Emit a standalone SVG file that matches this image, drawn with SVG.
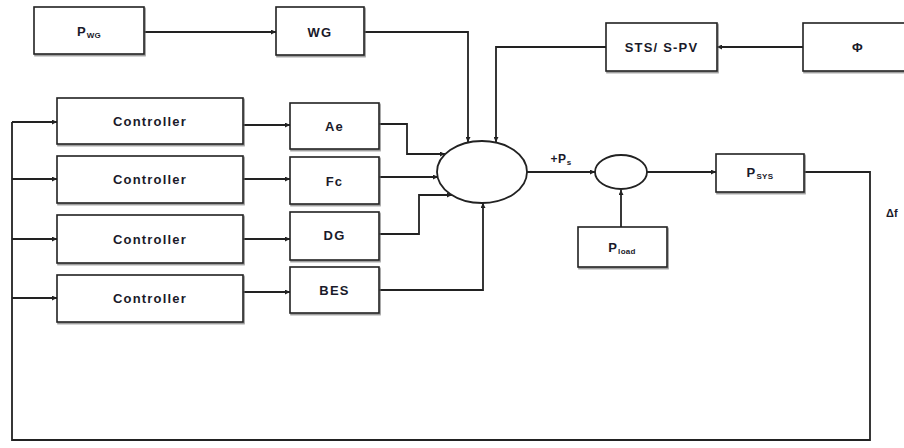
<svg xmlns="http://www.w3.org/2000/svg" width="904" height="448" viewBox="0 0 904 448">
<defs>
<marker id="ah" viewBox="0 0 10 10" refX="10" refY="5" markerWidth="5" markerHeight="5" orient="auto" markerUnits="userSpaceOnUse"><path d="M0,0 L10,5 L0,10 z" fill="#222"/></marker>
<filter id="sh" x="-10%" y="-10%" width="120%" height="130%"><feDropShadow dx="1" dy="1.5" stdDeviation="0.6" flood-color="#666" flood-opacity="0.7"/></filter>
</defs>
<style>
.box{fill:#fff;stroke:#222;stroke-width:1.6;filter:url(#sh)}
.ell{fill:#fff;stroke:#222;stroke-width:1.8}
.c{fill:none;stroke:#222;stroke-width:1.8}
.a{marker-end:url(#ah)}
text{font-family:"Liberation Sans",Arial,sans-serif;font-weight:bold;font-size:13px;fill:#1a1a2a;text-anchor:middle;letter-spacing:1.2px}
.sub{font-size:8px;letter-spacing:0.3px}
</style>
<rect width="904" height="448" fill="#fff"/>
<g id="connectors">
<path class="c a" d="M144,32 H276"/>
<path class="c a" d="M364,32 H468 V142"/>
<path class="c a" d="M803,47 H717"/>
<path class="c a" d="M606,47 H496 V142"/>
<path class="c a" d="M379,124 H407 V154 H445"/>
<path class="c a" d="M379,177 H438"/>
<path class="c a" d="M379,234 H419 V195 H452"/>
<path class="c a" d="M379,290 H483 V203"/>
<path class="c a" d="M527,172 H595"/>
<path class="c a" d="M647,172 H716"/>
<path class="c a" d="M621,227 V190"/>
<path class="c" d="M804,172 H870 V440 H12 V122"/>
<path class="c a" d="M12,122 H57"/>
<path class="c a" d="M12,179 H57"/>
<path class="c a" d="M12,239 H57"/>
<path class="c a" d="M12,298 H57"/>
<path class="c a" d="M243,125 H290"/>
<path class="c a" d="M243,179 H290"/>
<path class="c a" d="M243,239 H290"/>
<path class="c a" d="M243,292 H290"/>
</g>
<g id="pwg"><rect class="box" x="34" y="7" width="110" height="47"/><text x="89" y="36">P<tspan class="sub" dy="2">WG</tspan></text></g>
<g id="wg"><rect class="box" x="276" y="7" width="88" height="48"/><text x="320" y="37">WG</text></g>
<g id="sts"><rect class="box" x="606" y="23" width="111" height="48"/><text x="661.5" y="52">STS/ S-PV</text></g>
<g id="phi"><rect class="box" x="803" y="23" width="110" height="48"/><text x="858" y="52">Φ</text></g>
<g id="ctrl1"><rect class="box" x="57" y="98" width="186" height="46"/><text x="150" y="126">Controller</text></g>
<g id="ctrl2"><rect class="box" x="57" y="156" width="186" height="47"/><text x="150" y="184">Controller</text></g>
<g id="ctrl3"><rect class="box" x="57" y="215" width="186" height="48"/><text x="150" y="244">Controller</text></g>
<g id="ctrl4"><rect class="box" x="57" y="275" width="186" height="47"/><text x="150" y="303">Controller</text></g>
<g id="ae"><rect class="box" x="290" y="103" width="89" height="46"/><text x="334.5" y="131">Ae</text></g>
<g id="fc"><rect class="box" x="290" y="157" width="89" height="47"/><text x="334.5" y="186">Fc</text></g>
<g id="dg"><rect class="box" x="290" y="212" width="89" height="48"/><text x="334.5" y="240">DG</text></g>
<g id="bes"><rect class="box" x="290" y="267" width="89" height="46"/><text x="334.5" y="295">BES</text></g>
<g id="sum1"><ellipse class="ell" cx="482" cy="172" rx="45" ry="31"/></g>
<g id="sum2"><ellipse class="ell" cx="621" cy="172" rx="26" ry="17"/></g>
<g id="ps-label"><text x="561" y="163" style="font-size:12px;letter-spacing:0.5px">+P<tspan class="sub" dy="2">s</tspan></text></g>
<g id="pload"><rect class="box" x="578" y="227" width="89" height="40"/><text x="622" y="252">P<tspan class="sub" dy="2">load</tspan></text></g>
<g id="psys"><rect class="box" x="716" y="154" width="88" height="38"/><text x="760" y="177">P<tspan class="sub" dy="2">SYS</tspan></text></g>
<g id="df"><text x="886" y="217" style="text-anchor:start;font-size:11px;letter-spacing:0">Δf</text></g>
</svg>
